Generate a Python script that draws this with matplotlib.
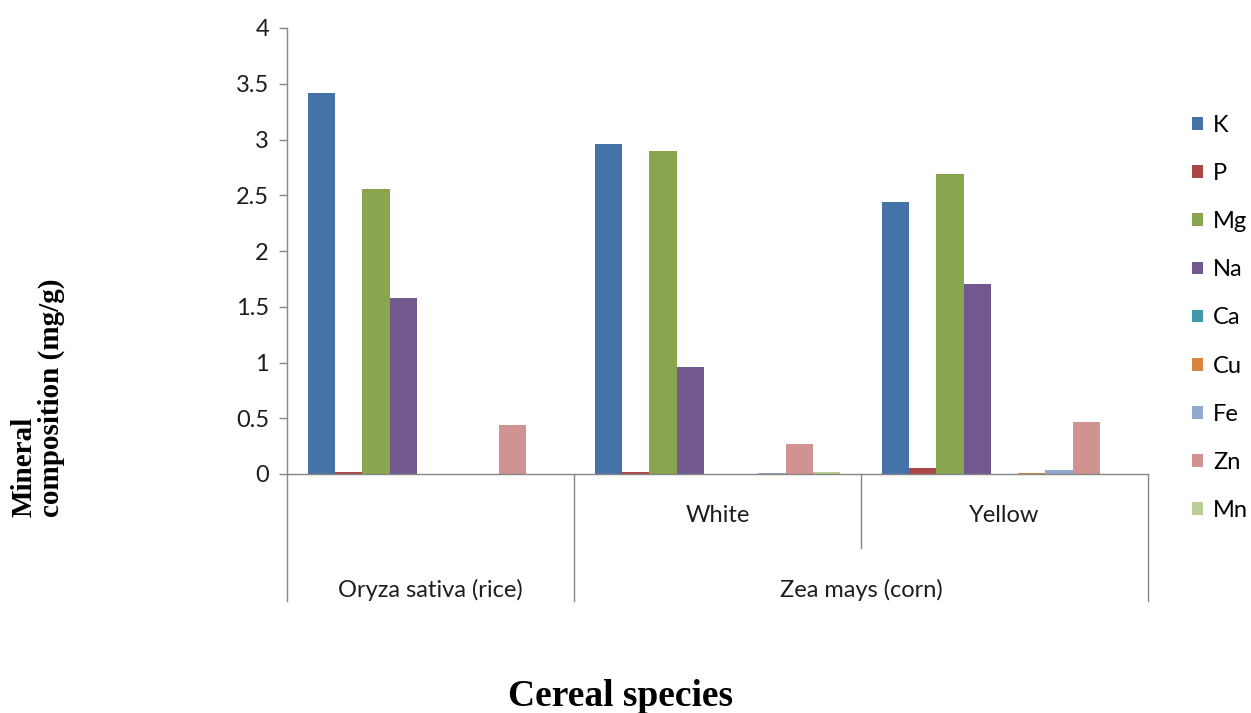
import matplotlib
matplotlib.use("Agg")
import matplotlib.pyplot as plt
import numpy as np
from matplotlib.patches import Patch

minerals = ["K", "P", "Mg", "Na", "Ca", "Cu", "Fe", "Zn", "Mn"]
groups = ["Rice", "White", "Yellow"]
rice = [3.42, 0.02, 2.56, 1.58, 0.0, 0.0, 0.0, 0.44, 0.0]
white_corn = [2.96, 0.02, 2.90, 0.96, 0.0, 0.0, 0.01, 0.27, 0.02]
yellow_corn = [2.44, 0.05, 2.69, 1.70, 0.0, 0.01, 0.04, 0.47, 0.0]
values = [rice, white_corn, yellow_corn]
sub_labels = ["", "White", "Yellow"]
top_labels = ["Oryza sativa (rice)", "Zea mays (corn)"]
yticks = [0, 0.5, 1, 1.5, 2, 2.5, 3, 3.5, 4]
ytick_labels = ["0", "0.5", "1", "1.5", "2", "2.5", "3", "3.5", "4"]

colors = ["#4572A7", "#AA4643", "#89A54E", "#71588F", "#4198AF",
          "#DB843D", "#93A9CF", "#D19392", "#B9CD96"]

sans = ["Lato", "DejaVu Sans"]
serif = ["Liberation Serif", "DejaVu Serif"]
axis_grey = "#868686"
txt = "#1e1e1e"

fig = plt.figure(figsize=(12.51, 7.13), dpi=100)
ax = fig.add_axes([287/1251, 1-474/713, (1148-287)/1251, (474-28)/713])

bw = 0.0952
margin = (1 - 9*bw) / 2
for gi, vals in enumerate(values):
    for mi, v in enumerate(vals):
        x = gi + margin + mi*bw
        ax.bar(x, v, width=bw, align="edge", color=colors[mi],
               edgecolor="none", linewidth=0)

ax.set_xlim(0, 3)
ax.set_ylim(0, 4)
ax.set_yticks(yticks)
ax.set_yticklabels(ytick_labels, fontfamily=sans, fontsize=17)
ax.tick_params(axis="y", direction="out", length=6, width=1, color=axis_grey,
               pad=7, labelcolor=txt)
ax.set_xticks([])
for s in ["top", "right"]:
    ax.spines[s].set_visible(False)
for s in ["left", "bottom"]:
    ax.spines[s].set_color(axis_grey)
    ax.spines[s].set_linewidth(1)

tr = ax.get_xaxis_transform()
full = 127/446
half = 74/446
for xv, depth in [(0, full), (1, full), (2, half), (3, full)]:
    ax.plot([xv, xv], [0, -depth], transform=tr, color=axis_grey, lw=1,
            clip_on=False)

for gi, lab in enumerate(sub_labels):
    if lab:
        ax.text(gi + 0.5, -42/446, lab, transform=tr, ha="center", va="center",
                fontfamily=sans, fontsize=17, color=txt)
ax.text(0.5, -116/446, top_labels[0], transform=tr, ha="center", va="center",
        fontfamily=sans, fontsize=17, color=txt)
ax.text(2.0, -116/446, top_labels[1], transform=tr, ha="center", va="center",
        fontfamily=sans, fontsize=17, color=txt)

handles = [Patch(facecolor=c, edgecolor="none") for c in colors]
fig.legend(handles, minerals, loc="center left",
           bbox_to_anchor=(1192/1251, 1-318/713), frameon=False,
           prop={"family": sans, "size": 17}, handlelength=0.45,
           handleheight=0.45, handletextpad=0.45, labelspacing=1.15,
           borderaxespad=0, borderpad=0)

fig.text(621/1251, 1-697/713, "Cereal species", ha="center", va="center",
         fontfamily=serif, fontweight="bold", fontsize=27)
fig.text(38/1251, 1-517/713, "Mineral\ncomposition (mg/g)", rotation=90,
         ha="center", va="bottom", multialignment="left",
         fontfamily=serif, fontweight="bold", fontsize=21, linespacing=1.0)

fig.savefig("out.png", dpi=100)
